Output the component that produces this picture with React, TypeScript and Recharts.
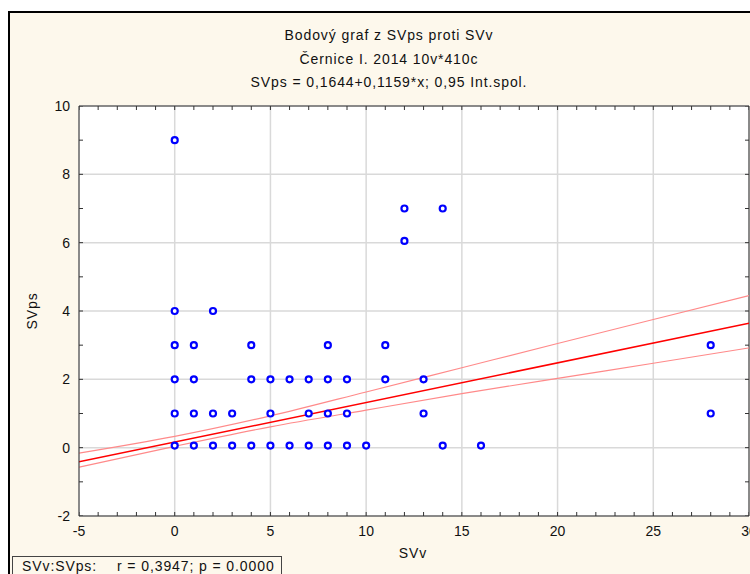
import { ComposedChart, Scatter, Line, XAxis, YAxis, CartesianGrid, ReferenceLine } from "recharts";

// SVv (x) / SVps (y) pairs, row by row from the top
const svv = [
  0, 12, 14, 12, 0, 2,
  0, 1, 4, 8, 11, 28,
  0, 1, 4, 5, 6, 7, 8, 9, 11, 13,
  0, 1, 2, 3, 5, 7, 8, 9, 13, 28,
  0, 1, 2, 3, 4, 5, 6, 7, 8, 9, 10, 14, 16,
];
const svps = [
  9, 7, 7, 6.05, 4, 4,
  3, 3, 3, 3, 3, 3,
  2, 2, 2, 2, 2, 2, 2, 2, 2, 2,
  1, 1, 1, 1, 1, 1, 1, 1, 1, 1,
  0.06, 0.06, 0.06, 0.06, 0.06, 0.06, 0.06, 0.06, 0.06, 0.06, 0.06, 0.06, 0.06,
];

// fitted line SVps = 0,1644 + 0,1159*x (ends of the plotted segment)
const fitX = [-5, 30];
const fitY = [-0.415, 3.64];

// 0,95 confidence band, read at the major x ticks
const bandX = [-5, 0, 5, 10, 15, 20, 25, 30];
const bandUpper = [-0.16, 0.33, 0.93, 1.63, 2.34, 3.05, 3.75, 4.45];
const bandLower = [-0.57, 0.04, 0.61, 1.1, 1.58, 2.03, 2.47, 2.92];

const xTicks = [-5, 0, 5, 10, 15, 20, 25, 30];
const yTicks = [-2, 0, 2, 4, 6, 8, 10];
const xMinor = [-5, -4, -3, -2, -1, 0, 1, 2, 3, 4, 5, 6, 7, 8, 9, 10, 11, 12, 13, 14, 15, 16, 17, 18, 19, 20, 21, 22, 23, 24, 25, 26, 27, 28, 29, 30];
const yMinor = [-2, -1, 0, 1, 2, 3, 4, 5, 6, 7, 8, 9, 10];

const xMin = -5;
const xMax = 30;
const yMin = -2;
const yMax = 10;

const points = svv.map((x, i) => ({ x, y: svps[i] }));
const fit = fitX.map((x, i) => ({ x, y: fitY[i] }));
const upper = bandX.map((x, i) => ({ x, y: bandUpper[i] }));
const lower = bandX.map((x, i) => ({ x, y: bandLower[i] }));

// minor tick marks on all four sides of the frame
const bottomTicks = xMinor.map((x) => ({ x, y: yMin }));
const topTicks = xMinor.map((x) => ({ x, y: yMax }));
const leftTicks = yMinor.map((y) => ({ x: xMin, y }));
const rightTicks = yMinor.map((y) => ({ x: xMax, y }));

const font = "'Liberation Sans', Arial, sans-serif";
const cream = "#fdf8ec";
const axisColor = "#333";
const TL = 4;

const Ring = (p: any) => (
  <circle cx={p.cx} cy={p.cy} r={3} fill="#fff" stroke="#0000ff" strokeWidth={2.2} />
);
const TickUp = (p: any) => <line x1={p.cx} x2={p.cx} y1={p.cy} y2={p.cy - TL} stroke={axisColor} />;
const TickDown = (p: any) => <line x1={p.cx} x2={p.cx} y1={p.cy} y2={p.cy + TL} stroke={axisColor} />;
const TickRight = (p: any) => <line x1={p.cx} x2={p.cx + TL} y1={p.cy} y2={p.cy} stroke={axisColor} />;
const TickLeft = (p: any) => <line x1={p.cx} x2={p.cx - TL} y1={p.cy} y2={p.cy} stroke={axisColor} />;

const titleStyle: React.CSSProperties = {
  position: "absolute",
  left: 0,
  width: 778,
  textAlign: "center",
  fontSize: 14,
  lineHeight: "20px",
  letterSpacing: 0.9,
  color: "#111",
};

export default function App() {
  return (
    <div style={{ position: "relative", width: 750, height: 574, overflow: "hidden", fontFamily: font }}>
      <style>{"body{margin:0;overflow:hidden}"}</style>
      <div
        style={{
          position: "absolute",
          left: 8,
          top: 11,
          width: 790,
          height: 620,
          border: "2px solid #000",
          background: cream,
        }}
      />
      <div style={{ ...titleStyle, top: 25 }}>Bodový graf z SVps proti SVv</div>
      <div style={{ ...titleStyle, top: 49 }}>Černice I. 2014 10v*410c</div>
      <div style={{ ...titleStyle, top: 72 }}>SVps = 0,1644+0,1159*x; 0,95 Int.spol.</div>

      <div style={{ position: "absolute", left: 0, top: 0 }}>
        <ComposedChart width={760} height={574} margin={{ top: 106, right: 11, bottom: 27, left: 38 }}>
          <CartesianGrid fill="#fff" stroke="#d9d9d9" strokeWidth={1.5} />
          <XAxis
            type="number"
            dataKey="x"
            domain={[xMin, xMax]}
            allowDataOverflow
            ticks={xTicks}
            interval={0}
            tickLine={false}
            tickSize={0}
            tickMargin={10}
            height={31}
            stroke={axisColor}
            tick={{ fill: "#111", fontSize: 14, fontFamily: font }}
          />
          <YAxis
            type="number"
            dataKey="y"
            domain={[yMin, yMax]}
            allowDataOverflow
            ticks={yTicks}
            interval={0}
            tickLine={false}
            tickSize={0}
            tickMargin={9}
            width={41}
            stroke={axisColor}
            tick={{ fill: "#111", fontSize: 14, fontFamily: font }}
          />
          <ReferenceLine y={yMax} stroke={axisColor} />
          <ReferenceLine x={xMax} stroke={axisColor} />
          <Line data={upper} dataKey="y" type="monotone" stroke="#ff8a8a" strokeWidth={1.2} dot={false} isAnimationActive={false} />
          <Line data={lower} dataKey="y" type="monotone" stroke="#ff8a8a" strokeWidth={1.2} dot={false} isAnimationActive={false} />
          <Line data={fit} dataKey="y" stroke="#ff0000" strokeWidth={1.5} dot={false} isAnimationActive={false} />
          <Scatter data={points} dataKey="y" shape={Ring} isAnimationActive={false} />
          <Scatter data={bottomTicks} dataKey="y" shape={TickUp} isAnimationActive={false} />
          <Scatter data={topTicks} dataKey="y" shape={TickDown} isAnimationActive={false} />
          <Scatter data={leftTicks} dataKey="y" shape={TickRight} isAnimationActive={false} />
          <Scatter data={rightTicks} dataKey="y" shape={TickLeft} isAnimationActive={false} />
        </ComposedChart>
      </div>

      <div
        style={{
          position: "absolute",
          left: 32,
          top: 311,
          transform: "translate(-50%, -50%) rotate(-90deg)",
          fontSize: 14,
          letterSpacing: 0.9,
          color: "#111",
        }}
      >
        SVps
      </div>
      <div style={{ position: "absolute", left: 413, top: 553, transform: "translate(-50%, -50%)", fontSize: 14, letterSpacing: 0.9, color: "#111" }}>
        SVv
      </div>

      <div
        style={{
          position: "absolute",
          left: 12,
          top: 556,
          width: 268,
          height: 30,
          border: "1px solid #444",
          background: cream,
          fontSize: 14,
          letterSpacing: 0.9,
          color: "#111",
          whiteSpace: "pre",
        }}
      >
        <span style={{ position: "absolute", left: 9, top: 1 }}>SVv:SVps:</span>
        <span style={{ position: "absolute", left: 104, top: 1 }}>r = 0,3947; p = 0.0000</span>
      </div>
    </div>
  );
}
